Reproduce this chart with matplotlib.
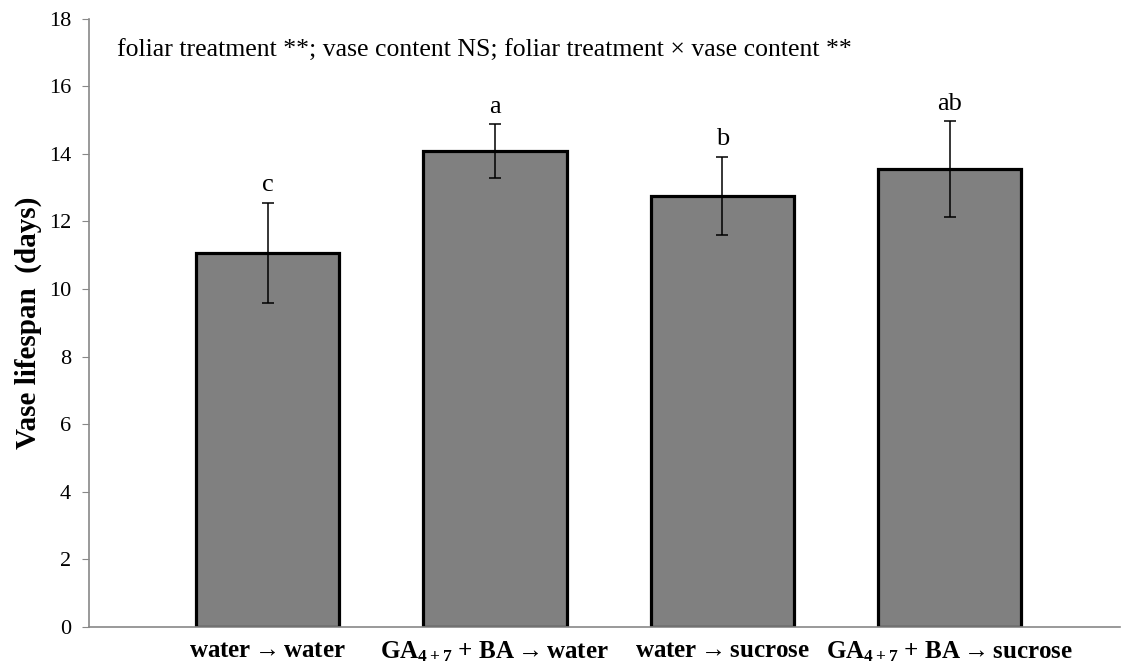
import matplotlib.pyplot as plt
import numpy as np

plt.rcParams["font.family"] = ["Liberation Serif", "DejaVu Serif"]
plt.rcParams["mathtext.fontset"] = "custom"
plt.rcParams["mathtext.rm"] = "Liberation Serif:bold"
plt.rcParams["mathtext.bf"] = "Liberation Serif:bold"
plt.rcParams["mathtext.it"] = "Liberation Serif:bold"

# ── Data ──────────────────────────────────────────────────────────────────────
categories = [
    r"water$\rightarrow$water",
    r"GA$_{\mathbf{4+7}}$ + BA$\rightarrow$water",
    r"water$\rightarrow$sucrose",
    r"GA$_{\mathbf{4+7}}$ + BA$\rightarrow$sucrose",
]
lifespan = [11.08, 14.08, 12.76, 13.55]
errors = [1.48, 0.79, 1.15, 1.41]
letters = ["c", "a", "b", "ab"]
y_ticks = [0, 2, 4, 6, 8, 10, 12, 14, 16, 18]

# ── Plot ──────────────────────────────────────────────────────────────────────
fig = plt.figure(figsize=(11.21, 6.67), dpi=100)
ax = fig.add_axes([0.0794, 0.06, 0.92, 0.912])

x = np.arange(len(categories))
ax.bar(x, lifespan, width=0.63, color="#808080", edgecolor="black", linewidth=2.3, zorder=2)
ax.errorbar(x, lifespan, yerr=errors, fmt="none", ecolor="black", elinewidth=1.1,
            capsize=4.5, capthick=1.1, zorder=3)

for xi, v, e, lab in zip(x, lifespan, errors, letters):
    ax.text(xi, v + e + 0.2, lab, ha="center", va="bottom", fontsize=19)

ax.text(-0.66, 17.05, "foliar treatment **; vase content NS; foliar treatment \u00d7 vase content **",
        ha="left", va="center", fontsize=18.5)

ax.set_xlim(-0.785, 3.75)
ax.set_ylim(0, 18)
ax.set_yticks(y_ticks)
ax.set_xticks(x)
ax.set_xticklabels(categories, fontsize=18, fontweight="bold")
ax.tick_params(axis="x", length=0, pad=9)
ax.tick_params(axis="y", length=5, color="#888888", labelsize=16, pad=8)
ax.set_ylabel("Vase lifespan  (days)", fontsize=21, fontweight="bold", labelpad=5)

for side in ["top", "right"]:
    ax.spines[side].set_visible(False)
for side in ["left", "bottom"]:
    ax.spines[side].set_color("#888888")
    ax.spines[side].set_linewidth(1.2)

fig.savefig("out.png", dpi=100)
